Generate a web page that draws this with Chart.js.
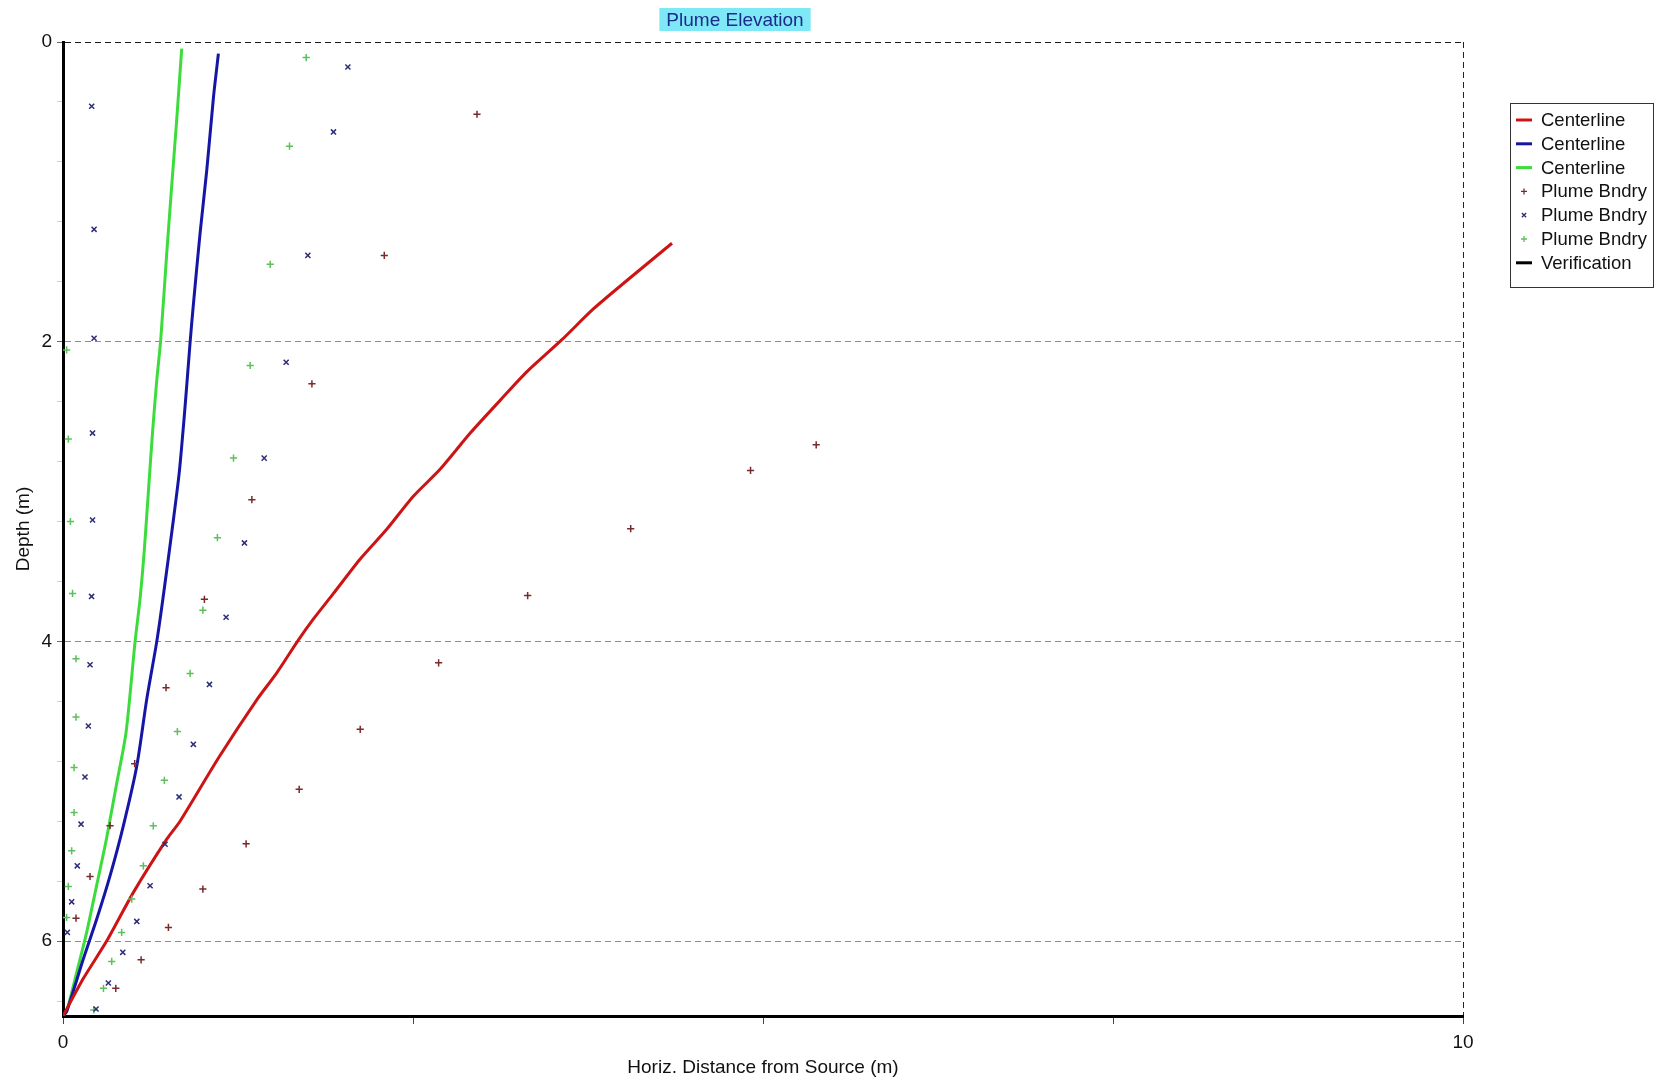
<!DOCTYPE html>
<html>
<head>
<meta charset="utf-8">
<title>Plume Elevation</title>
<script src="https://cdn.jsdelivr.net/npm/chart.js@4.4.1/dist/chart.umd.min.js"></script>
<style>
  html, body { margin: 0; padding: 0; background: #ffffff; }
  #wrap { width: 1656px; height: 1082px; position: relative; }
</style>
</head>
<body>
<div id="wrap"><canvas id="plume" width="1656" height="1082"></canvas></div>
<script>
// ---- data (horizontal distance in m, depth in m) ----
const chartTitle = 'Plume Elevation';
const xAxisTitle = 'Horiz. Distance from Source (m)';
const yAxisTitle = 'Depth (m)';

const xTickValues = [0, 2.5, 5, 7.5, 10];
const xTickLabels = ['0', '', '', '', '10'];
const yTickValues = [0, 0.4, 0.8, 1.2, 1.6, 2, 2.4, 2.8, 3.2, 3.6, 4, 4.4, 4.8, 5.2, 5.6, 6, 6.4];
const yLabelValues = [0, 2, 4, 6];

const seriesLabels = ['Centerline', 'Centerline', 'Centerline', 'Plume Bndry', 'Plume Bndry', 'Plume Bndry', 'Verification'];

const redCenterX     = [0.000, 0.145, 0.312, 0.503, 0.741, 0.836, 1.116, 1.384, 1.527, 1.682, 1.789, 1.932, 2.123, 2.314, 2.504, 2.695, 2.909, 3.124, 3.314, 3.560, 3.790, 4.030, 4.350];
const redCenterDepth = [6.500, 6.250, 6.000, 5.675, 5.320, 5.200, 4.770, 4.390, 4.210, 3.990, 3.850, 3.680, 3.450, 3.250, 3.030, 2.850, 2.610, 2.390, 2.200, 1.990, 1.780, 1.590, 1.343];

const blueCenterX     = [0.000, 0.026, 0.145, 0.241, 0.336, 0.431, 0.527, 0.598, 0.670, 0.713, 0.780, 0.830, 0.872, 0.908, 0.932, 0.979, 1.027, 1.075, 1.110];
const blueCenterDepth = [6.500, 6.470, 6.120, 5.853, 5.565, 5.231, 4.832, 4.387, 4.000, 3.721, 3.250, 2.876, 2.432, 2.003, 1.744, 1.277, 0.855, 0.367, 0.078];

const greenCenterX     = [0.000, 0.026, 0.098, 0.169, 0.240, 0.310, 0.380, 0.450, 0.515, 0.550, 0.580, 0.610, 0.640, 0.670, 0.698, 0.741, 0.776, 0.812, 0.848];
const greenCenterDepth = [6.500, 6.470, 6.209, 5.942, 5.630, 5.320, 4.965, 4.610, 4.000, 3.720, 3.400, 3.000, 2.600, 2.255, 1.988, 1.410, 0.966, 0.522, 0.044];

const redBndryX     = [2.957, 2.295, 1.778, 1.349, 1.010, 0.736, 0.512, 0.336, 0.193, 0.093,
                       5.380, 4.911, 4.055, 3.319, 2.683, 2.123, 1.687, 1.308, 0.999, 0.753, 0.558, 0.377];
const redBndryDepth = [0.482, 1.424, 2.281, 3.054, 3.719, 4.309, 4.816, 5.230, 5.569, 5.847,
                       2.688, 2.859, 3.248, 3.694, 4.143, 4.587, 4.987, 5.351, 5.653, 5.909, 6.125, 6.315];

const blueBndryX     = [0.205, 0.222, 0.222, 0.211, 0.211, 0.204, 0.193, 0.181, 0.157, 0.129, 0.102, 0.062, 0.031,
                        2.035, 1.932, 1.749, 1.594, 1.437, 1.296, 1.165, 1.046, 0.931, 0.829, 0.729, 0.622, 0.527, 0.427, 0.324, 0.236];
const blueBndryDepth = [0.429, 1.250, 1.977, 2.610, 3.190, 3.700, 4.156, 4.565, 4.905, 5.220, 5.498, 5.738, 5.942,
                        0.167, 0.600, 1.424, 2.137, 2.777, 3.343, 3.839, 4.287, 4.687, 5.038, 5.354, 5.631, 5.869, 6.075, 6.280, 6.453];

const greenBndryX     = [0.026, 0.038, 0.053, 0.068, 0.093, 0.093, 0.079, 0.079, 0.062, 0.038, 0.026,
                         1.737, 1.618, 1.480, 1.337, 1.218, 1.103, 0.999, 0.908, 0.817, 0.724, 0.645, 0.574, 0.491, 0.419, 0.348, 0.289, 0.220];
const greenBndryDepth = [2.055, 2.650, 3.200, 3.680, 4.116, 4.505, 4.842, 5.142, 5.398, 5.635, 5.842,
                         0.104, 0.695, 1.484, 2.159, 2.777, 3.308, 3.792, 4.214, 4.602, 4.927, 5.231, 5.498, 5.720, 5.942, 6.136, 6.315, 6.460];

const verificationX = [];
const verificationDepth = [];

// ---- helpers ----
const toPoints = (xs, ys) => xs.map((x, i) => ({ x: x, y: ys[i] }));
const near = (a, b) => Math.abs(a - b) < 1e-6;
const FONT = "'Liberation Sans', Arial, Helvetica, sans-serif";

Chart.defaults.font.family = FONT;
Chart.defaults.font.size = 19;
Chart.defaults.color = '#111111';

function lineSet(label, xs, ys, color) {
  return {
    label: label, data: toPoints(xs, ys), showLine: true,
    borderColor: color, backgroundColor: color, borderWidth: 3,
    pointRadius: 0, pointHoverRadius: 0, tension: 0.25, order: 2,
    legendKind: 'line'
  };
}
function pointSet(label, xs, ys, color, style) {
  return {
    label: label, data: toPoints(xs, ys), showLine: false,
    borderColor: color, backgroundColor: color, pointStyle: style,
    pointRadius: 3.6, pointBorderWidth: 1.5, pointHoverRadius: 3.6, order: 1,
    legendKind: 'point'
  };
}

// title box above the plot
const titleBoxPlugin = {
  id: 'titleBox',
  afterDraw(chart) {
    const ctx = chart.ctx;
    ctx.save();
    ctx.font = '19px ' + FONT;
    const w = ctx.measureText(chartTitle).width + 14;
    const cx = 735, cy = 19.5;
    ctx.fillStyle = '#7fe8f6';
    ctx.fillRect(cx - w / 2, 8, w, 23);
    ctx.fillStyle = '#1c2a8c';
    ctx.textAlign = 'center';
    ctx.textBaseline = 'middle';
    ctx.fillText(chartTitle, cx, cy + 1);
    ctx.restore();
  }
};

// framed legend on the right
const framedLegendPlugin = {
  id: 'framedLegend',
  afterDraw(chart) {
    const ctx = chart.ctx;
    const left = 1510, top = 103, width = 143, height = 184;
    const rowTop = 120, rowStep = 23.8;
    ctx.save();
    ctx.fillStyle = '#ffffff';
    ctx.fillRect(left, top, width, height);
    ctx.strokeStyle = '#333333';
    ctx.lineWidth = 1;
    ctx.strokeRect(left + 0.5, top + 0.5, width, height);
    ctx.font = '18.5px ' + FONT;
    ctx.textBaseline = 'middle';
    ctx.textAlign = 'left';
    chart.data.datasets.forEach((ds, i) => {
      const y = rowTop + i * rowStep;
      const mx = 1524;
      ctx.strokeStyle = ds.borderColor;
      if (ds.legendKind === 'line') {
        ctx.lineWidth = 3;
        ctx.beginPath();
        ctx.moveTo(mx - 8, y);
        ctx.lineTo(mx + 8, y);
        ctx.stroke();
      } else {
        ctx.lineWidth = 1.3;
        Chart.helpers.drawPoint(ctx, { pointStyle: ds.pointStyle, radius: 3, borderWidth: 1.3 }, mx, y);
      }
      ctx.fillStyle = '#111111';
      ctx.fillText(ds.label, 1541, y + 1);
    });
    ctx.restore();
  }
};

const chart = new Chart(document.getElementById('plume'), {
  type: 'scatter',
  data: {
    datasets: [
      lineSet(seriesLabels[0], redCenterX, redCenterDepth, '#cc1414'),
      lineSet(seriesLabels[1], blueCenterX, blueCenterDepth, '#1616a6'),
      lineSet(seriesLabels[2], greenCenterX, greenCenterDepth, '#3ddc3d'),
      pointSet(seriesLabels[3], redBndryX, redBndryDepth, '#7a2a2a', 'cross'),
      pointSet(seriesLabels[4], blueBndryX, blueBndryDepth, '#2c2c78', 'crossRot'),
      pointSet(seriesLabels[5], greenBndryX, greenBndryDepth, '#5cc05c', 'cross'),
      lineSet(seriesLabels[6], verificationX, verificationDepth, '#000000')
    ]
  },
  options: {
    responsive: false,
    devicePixelRatio: 1,
    animation: false,
    events: [],
    layout: { padding: { top: 42, right: 193, left: 0, bottom: 0 } },
    plugins: {
      legend: { display: false },
      title: { display: false },
      tooltip: { enabled: false }
    },
    scales: {
      x: {
        type: 'linear', min: 0, max: 10,
        afterBuildTicks(scale) { scale.ticks = xTickValues.map(v => ({ value: v })); },
        afterFit(scale) { scale.height = 66; },
        ticks: {
          autoSkip: false, maxRotation: 0, padding: 7, color: '#111111',
          callback(v) { const k = xTickValues.findIndex(t => near(t, v)); return k >= 0 ? xTickLabels[k] : ''; }
        },
        grid: {
          drawOnChartArea: true, lineWidth: 1, tickLength: 8, tickWidth: 1,
          color: (c) => (c.tick && near(c.tick.value, 10)) ? '#222222' : 'rgba(0,0,0,0)',
          tickColor: '#444444'
        },
        border: { display: true, color: '#000000', width: 3, dash: [6, 4] },
        title: { display: true, text: xAxisTitle, color: '#111111', font: { size: 19 }, padding: { top: 0, bottom: 3 } }
      },
      y: {
        type: 'linear', min: 0, max: 6.5, reverse: true,
        afterBuildTicks(scale) { scale.ticks = yTickValues.map(v => ({ value: v })); },
        afterFit(scale) { scale.width = 63; },
        ticks: {
          autoSkip: false, padding: 5, color: '#111111',
          callback(v) { return yLabelValues.some(l => near(l, v)) ? String(Math.round(v)) : ''; }
        },
        grid: {
          lineWidth: 1, tickLength: 6, tickWidth: 1,
          color: (c) => {
            if (!c.tick) return 'rgba(0,0,0,0)';
            const v = c.tick.value;
            if (near(v, 0)) return '#1a1a1a';
            return yLabelValues.some(l => near(l, v)) ? '#8c8c8c' : 'rgba(0,0,0,0)';
          },
          tickColor: (c) => (c.tick && yLabelValues.some(l => near(l, c.tick.value))) ? '#6a6a6a' : '#cfcfcf'
        },
        border: { display: true, color: '#000000', width: 3, dash: [6, 4] },
        title: { display: true, text: yAxisTitle, color: '#111111', font: { size: 19 }, padding: { top: 12, bottom: 0 } }
      }
    }
  },
  plugins: [titleBoxPlugin, framedLegendPlugin]
});
</script>
</body>
</html>
